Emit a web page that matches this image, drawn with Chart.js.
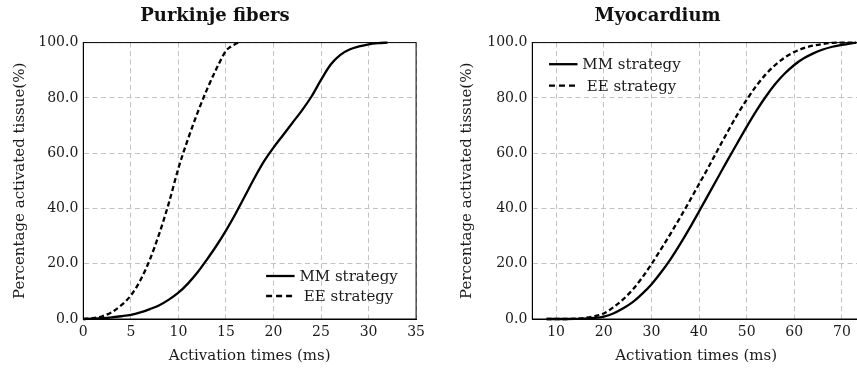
<!DOCTYPE html>
<html lang="en">
<head>
<meta charset="UTF-8">
<script src="https://cdn.jsdelivr.net/npm/chart.js"></script>
<title>Activation times</title>
<style>
  html, body { margin: 0; padding: 0; background: #fff; overflow: hidden; width: 857px; height: 368px; }
  .box { position: absolute; top: 0; height: 368px; }
  #left { left: 0; width: 430px; }
  #right { left: 430px; width: 440px; }
</style>
</head>
<body>
<div class="box" id="left"><canvas id="purkinjeChart"></canvas></div>
<div class="box" id="right"><canvas id="myoChart"></canvas></div>
<script>
// Purkinje fibers (ms, % activated)
const purkinjeMMTimes = [0,1,2,3,4,5,6,7,8,9,10,11,12,13,14,15,16,17,18,19,20,21,22,23,24,25,26,27,28,29,30,31,32];
const purkinjeMMPct   = [0,0.1,0.3,0.6,1.0,1.5,2.4,3.6,5.0,7.0,9.5,12.8,16.8,21.5,26.5,32,38,44.5,51,57,62,66.5,71,75.5,80.5,86.5,92,95.5,97.5,98.6,99.4,99.8,100];
const purkinjeEETimes = [0,1,2,3,4,5,6,7,8,9,10,11,12,13,14,15,15.5,16,16.3];
const purkinjeEEPct   = [0,0.3,1.0,2.5,5,8.5,14,21.5,31,42,54.5,65,74.5,83,90.5,97,98.5,99.5,100];
const purkinjeXTicks  = [0,5,10,15,20,25,30,35];

// Myocardium
const myoMMTimes = [8,10,12,14,16,18,20,22,24,26,28,30,32,34,36,38,40,42,44,46,48,50,52,54,56,58,60,62,64,66,68,70,72,73];
const myoMMPct   = [0,0,0,0.05,0.15,0.4,0.9,2.0,3.8,6.0,9.0,12.5,16.8,21.6,27.0,32.8,38.9,45.1,51.3,57.5,63.5,69.5,75.2,80.4,85.0,88.8,91.9,94.3,96.1,97.5,98.5,99.2,99.7,100];
const myoEETimes = [8,10,12,14,16,18,20,22,24,26,28,30,32,34,36,38,40,42,44,46,48,50,52,54,56,58,60,62,64,66,68,70,73];
const myoEEPct   = [0,0,0,0.1,0.4,1.0,2.0,4.2,7.0,10.5,14.8,19.8,25.2,30.8,36.6,42.6,48.8,55.0,61.4,67.7,73.8,79.3,84.3,88.5,91.9,94.6,96.6,98.0,98.9,99.5,99.9,100,100];
const myoXTicks  = [10,20,30,40,50,60,70];

const yTicks = [0,20,40,60,80,100];
const seriesLabels = ['MM strategy', 'EE strategy'];

Chart.defaults.font.family = "'DejaVu Serif', serif";
Chart.defaults.color = '#1a1a1a';

const pts = (xs, ys) => xs.map((x, i) => ({x: x, y: ys[i]}));

// black frame around the plot area
const frame = {
  id: 'frame',
  beforeDatasetsDraw(chart) {
    const {ctx, chartArea: a} = chart;
    ctx.save();
    ctx.strokeStyle = '#000';
    ctx.lineWidth = 1;
    ctx.strokeRect(a.left, a.top, a.right - a.left, a.bottom - a.top);
    ctx.restore();
  }
};

// pgfplots-like legend, text centred next to the line sample
const boxLegend = {
  id: 'boxLegend',
  afterDraw(chart, args, o) {
    const {ctx, chartArea: a} = chart;
    const x0 = o.fromRight ? a.right - o.dx : a.left + o.dx;
    const y0 = o.fromBottom ? a.bottom - o.dy : a.top + o.dy;
    ctx.save();
    ctx.font = "15px 'DejaVu Serif', serif";
    ctx.fillStyle = '#1a1a1a';
    ctx.textAlign = 'center';
    ctx.textBaseline = 'middle';
    chart.data.datasets.forEach((ds, i) => {
      const y = y0 + i * o.rowGap;
      ctx.strokeStyle = '#000';
      ctx.lineWidth = 2.3;
      ctx.setLineDash(ds.borderDash ? [6, 4] : []);
      ctx.beginPath();
      ctx.moveTo(x0, y);
      ctx.lineTo(x0 + 28.5, y);
      ctx.stroke();
      ctx.fillText(ds.label, x0 + 82.5, y + 1);
    });
    ctx.restore();
  }
};

function makeChart(id, title, mm, ee, cfg) {
  return new Chart(document.getElementById(id), {
    type: 'line',
    data: {
      datasets: [
        {label: seriesLabels[0], data: mm, borderColor: '#000', borderWidth: 2.3,
         pointRadius: 0, cubicInterpolationMode: 'monotone', clip: false},
        {label: seriesLabels[1], data: ee, borderColor: '#000', borderWidth: 2.3, borderDash: [5, 3],
         pointRadius: 0, cubicInterpolationMode: 'monotone', clip: false}
      ]
    },
    options: {
      responsive: true,
      maintainAspectRatio: false,
      animation: false,
      layout: {padding: cfg.padding},
      plugins: {
        legend: {display: false},
        tooltip: {enabled: false},
        title: {
          display: true, text: title, color: '#111',
          font: {size: 18, weight: 'bold'},
          padding: {top: 6, bottom: 15}
        },
        boxLegend: cfg.legend
      },
      scales: {
        x: {
          type: 'linear', min: cfg.xMin, max: cfg.xMax,
          afterBuildTicks: s => { s.ticks = cfg.xTicks.map(v => ({value: v})); },
          afterFit: s => { s.height = 49; },
          ticks: {padding: 5, font: {size: 14}, callback: v => v},
          grid: {color: '#c2c2c2', drawTicks: false},
          border: {color: '#000', dash: [5, 3.5]},
          title: {display: true, text: 'Activation times (ms)', font: {size: 15}, padding: {bottom: 3}}
        },
        y: {
          min: 0, max: 100,
          afterBuildTicks: s => { s.ticks = yTicks.map(v => ({value: v})); },
          afterFit: s => { s.width = cfg.yWidth; },
          ticks: {padding: 5, font: {size: 14}, callback: v => Number(v).toFixed(1)},
          grid: {color: '#c2c2c2', drawTicks: false},
          border: {color: '#000', dash: [5, 3.5]},
          title: {display: true, text: 'Percentage activated tissue(%)', font: {size: 15},
                  padding: {top: cfg.yTitlePad}}
        }
      }
    },
    plugins: [frame, boxLegend]
  });
}

makeChart('purkinjeChart', 'Purkinje fibers',
  pts(purkinjeMMTimes, purkinjeMMPct), pts(purkinjeEETimes, purkinjeEEPct), {
    padding: {left: 13.3, right: 13.3, top: 0, bottom: 0},
    xMin: 0, xMax: 35, xTicks: purkinjeXTicks,
    yWidth: 70, yTitlePad: -2.3,
    legend: {fromRight: true, dx: 150, fromBottom: true, dy: 43, rowGap: 20}
  });

makeChart('myoChart', 'Myocardium',
  pts(myoMMTimes, myoMMPct), pts(myoEETimes, myoEEPct), {
    padding: {left: 25, right: 10, top: 0, bottom: 0},
    xMin: 5, xMax: 73.8, xTicks: myoXTicks,
    yWidth: 77.3, yTitlePad: 2.7,
    legend: {fromRight: false, dx: 16.7, fromBottom: false, dy: 21.6, rowGap: 21.5}
  });
</script>
</body>
</html>
